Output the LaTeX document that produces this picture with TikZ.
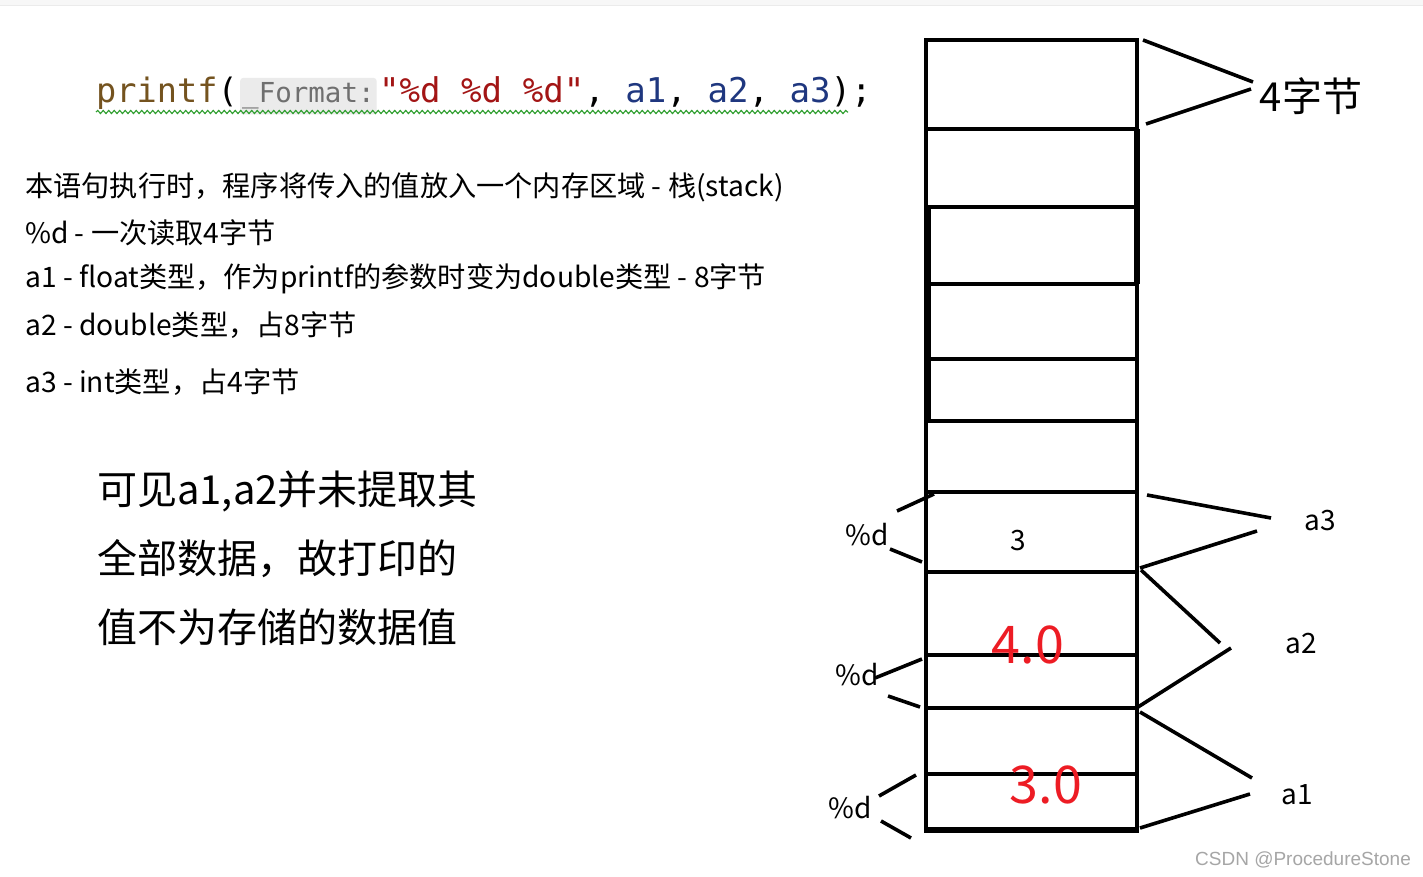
\documentclass[tikz,border=0pt]{standalone}
\usepackage{fontspec}
\newfontfamily\cjk{Noto Sans CJK SC}
\newfontfamily\codefont{DejaVu Sans Mono}
\usetikzlibrary{decorations.pathmorphing}
\definecolor{fnbrown}{HTML}{74531F}
\definecolor{strred}{HTML}{A31515}
\definecolor{varblue}{HTML}{1F377F}
\definecolor{hintgray}{HTML}{6F6F6F}
\definecolor{hintbg}{HTML}{EBEBEB}
\definecolor{squig}{HTML}{2E9E2E}
\definecolor{valred}{HTML}{ED1C24}
\tikzset{
  stk/.style={line width=4pt},
  brk/.style={line width=3.6pt},
  txt/.style={inner sep=0pt, font=\cjk\fontsize{28.2}{32}\selectfont},
  lbl/.style={inner sep=0pt, font=\cjk\fontsize{28}{32}\selectfont},
  big/.style={inner sep=0pt, anchor=west, font=\cjk\fontsize{40}{46}\selectfont},
  val/.style={inner sep=0pt, text=valred, font=\cjk\fontsize{52}{56}\selectfont},
}
\begin{document}
\begin{tikzpicture}[x=1pt,y=-1pt]
\useasboundingbox (0,0) rectangle (1423,877);
\fill[white] (0,0) rectangle (1423,877);
\fill[black!3] (0,0) rectangle (1423,5);
\draw[black!8] (0,5.5) -- (1423,5.5);

% code line
\node[anchor=base west, inner sep=0pt, font=\codefont\fontsize{33.6}{36}\selectfont] (pf) at (96,103) {\textcolor{fnbrown}{printf}(};
\node[anchor=base west, inner xsep=2pt, inner ysep=5pt, fill=hintbg, rounded corners=3pt, text=hintgray, font=\codefont\fontsize{27.5}{30}\selectfont] (fmt) at ([xshift=2pt]pf.base east) {\_Format:};
\node[anchor=base west, inner sep=0pt, font=\codefont\fontsize{34.1}{36}\selectfont] (args) at ([xshift=2pt]fmt.base east) {\textcolor{strred}{"\%d \%d \%d"}, \textcolor{varblue}{a1}, \textcolor{varblue}{a2}, \textcolor{varblue}{a3});};
\draw[squig, line width=1.1pt, decorate, decoration={snake, amplitude=1.6pt, segment length=5.5pt}] (96,112) -- (848,112);

% explanation lines
\node[txt, anchor=west] (l1) at (25,187) {本语句执行时，程序将传入的值放入一个内存区域 - 栈(stack)};
\node[txt, anchor=west] (l2) at (25,233) {\%d - 一次读取4字节};
\node[txt, anchor=west] (l3) at (25,279) {a1 - float类型，作为printf的参数时变为double类型 - 8字节};
\node[txt, anchor=west] (l4) at (25,325) {a2 - double类型，占8字节};
\node[txt, anchor=west] (l5) at (25,382) {a3 - int类型，占4字节};

\node[big] (b1) at (97,491) {可见a1,a2并未提取其};
\node[big] (b2) at (97,559) {全部数据，故打印的};
\node[big] (b3) at (97,627) {值不为存储的数据值};

% stack
\draw[stk] (926,40) rectangle (1137,831);
\foreach \yy in {129,207,284,359,421,492,572,655,708,774}
  \draw[stk] (926,\yy) -- (1137,\yy);
\draw[line width=6pt] (926,830) -- (1139,830);
\draw[line width=6pt] (1137,129) -- (1137,284);
\draw[line width=6pt] (928,207) -- (928,421);

\node[lbl] (v3) at (1018,541) {3};
\node[val] (v40) at (1028,645) {4.0};
\node[val] (v30) at (1046,785) {3.0};

% right labels
\node[inner sep=0pt, font=\cjk\fontsize{40}{44}\selectfont] (four) at (1311,96) {4字节};
\node[lbl] (a3) at (1320,521) {a3};
\node[lbl] (a2) at (1301,644) {a2};
\node[lbl] (a1) at (1297,795) {a1};

\draw[brk] (1143,40) -- (1253,82);
\draw[brk] (1146,124) -- (1251,89);
\draw[brk] (1147,495) -- (1271,518);
\draw[brk] (1257,531) -- (1140,568);
\draw[brk] (1141,570) -- (1220,643);
\draw[brk] (1231,648) -- (1138,707);
\draw[brk] (1140,712) -- (1252,778);
\draw[brk] (1250,794) -- (1140,828);

% left labels
\node[lbl] (d1) at (867,535) {\%d};
\node[lbl] (d2) at (857,675) {\%d};
\node[lbl] (d3) at (850,808) {\%d};

\draw[brk] (897,511) -- (934,494);
\draw[brk] (890,549) -- (922,562);
\draw[brk] (875,678) -- (922,659);
\draw[brk] (888,696) -- (920,707);
\draw[brk] (879,796) -- (916,775);
\draw[brk] (881,821) -- (911,838);

\node[inner sep=0pt, text=black!35, font=\fontspec{Liberation Sans}\fontsize{19}{22}\selectfont] (wm) at (1303,860) {CSDN @ProcedureStone};
\end{tikzpicture}
\end{document}
